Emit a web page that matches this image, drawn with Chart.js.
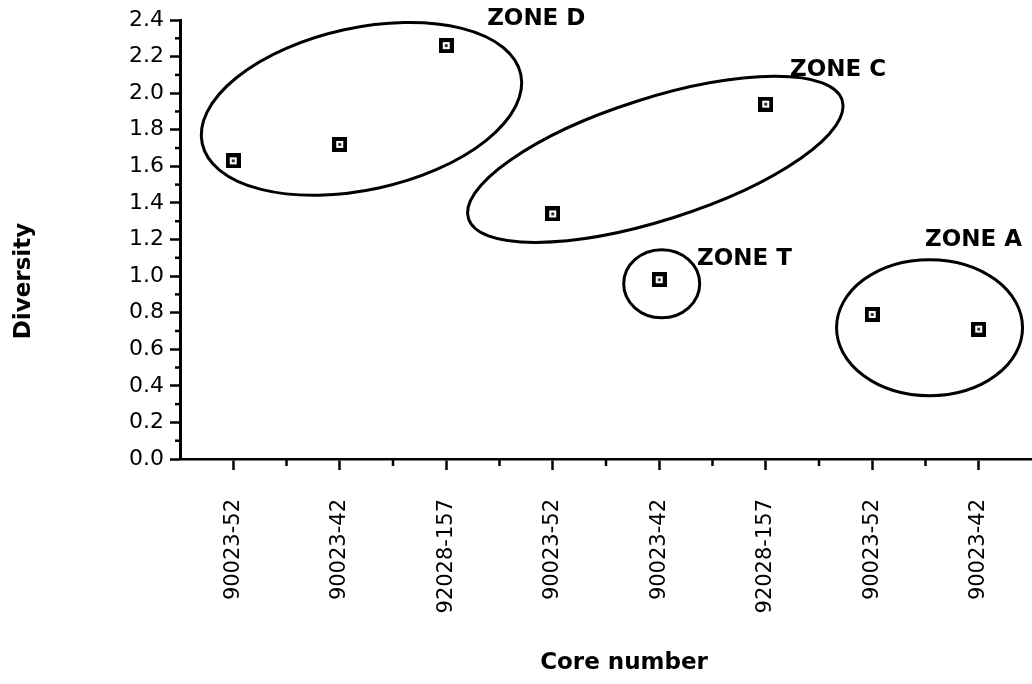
<!DOCTYPE html>
<html>
<head>
<meta charset="utf-8">
<script src="https://cdn.jsdelivr.net/npm/chart.js@4/dist/chart.umd.min.js"></script>
<style>
  html, body { margin: 0; padding: 0; background: #fff; overflow: hidden; }
  canvas { display: block; }
</style>
</head>
<body>
<canvas id="chart" width="1032" height="684"></canvas>
<script>
// Core samples along the x axis and their diversity index
const coreNumbers = ['90023-52', '90023-42', '92028-157', '90023-52', '90023-42', '92028-157', '90023-52', '90023-42'];
const diversity = [1.63, 1.72, 2.26, 1.34, 0.98, 1.94, 0.79, 0.71];
const diversityTicks = [0.0, 0.2, 0.4, 0.6, 0.8, 1.0, 1.2, 1.4, 1.6, 1.8, 2.0, 2.2, 2.4];
const zoneNames = ['ZONE D', 'ZONE C', 'ZONE T', 'ZONE A'];

// Outline geometry for each zone: centre in axis units, radii in px, tilt in degrees,
// label anchor (left / baseline) in axis units
const zoneShapes = [
  { cx: 1.204, cy: 1.914, rx: 163, ry: 81, tilt: -12.3, lx: 2.384, ly: 2.373 },
  { cx: 3.963, cy: 1.638, rx: 196, ry: 61, tilt: -17.6, lx: 5.228, ly: 2.094 },
  { cx: 4.023, cy: 0.958, rx: 38, ry: 34, tilt: 0, lx: 4.354, ly: 1.061 },
  { cx: 6.538, cy: 0.718, rx: 93, ry: 68, tilt: 0, lx: 6.495, ly: 1.165 }
];

const FONT = '"DejaVu Sans", "Liberation Sans", Arial, sans-serif';

// Square marker with a white core and a centre dot
function makeMarker() {
  const c = document.createElement('canvas');
  c.width = 15; c.height = 15;
  const g = c.getContext('2d');
  g.fillStyle = '#000';
  g.fillRect(0, 0, 15, 15);
  g.fillStyle = '#fff';
  g.fillRect(4, 4, 7, 7);
  g.fillStyle = '#000';
  g.fillRect(6.2, 6.2, 2.6, 2.6);
  return c;
}

// Let the plot run all the way to the right edge of the canvas
const fullWidth = {
  id: 'fullWidth',
  afterLayout(chart) {
    const x = chart.scales.x;
    const right = chart.width;
    if (chart.chartArea.right !== right) {
      chart.chartArea.right = right;
      chart.chartArea.width = right - chart.chartArea.left;
      x.right = right;
      x.width = right - x.left;
      x.configure();
    }
  }
};

const zonePlugin = {
  id: 'zones',
  beforeDatasetsDraw(chart) {
    const { ctx, scales: { x, y } } = chart;
    ctx.save();
    ctx.lineWidth = 3;
    ctx.strokeStyle = '#000';
    ctx.fillStyle = '#000';
    ctx.font = 'bold 23px ' + FONT;
    ctx.textAlign = 'left';
    ctx.textBaseline = 'alphabetic';
    zoneShapes.forEach((z, i) => {
      const cx = x.getPixelForValue(z.cx);
      const cy = y.getPixelForValue(z.cy);
      ctx.beginPath();
      ctx.ellipse(cx, cy, z.rx, z.ry, z.tilt * Math.PI / 180, 0, Math.PI * 2);
      ctx.stroke();
      ctx.fillText(zoneNames[i], x.getPixelForValue(z.lx), y.getPixelForValue(z.ly));
    });
    ctx.restore();
  }
};

const axisExtras = {
  id: 'axisExtras',
  afterDraw(chart) {
    const { ctx, chartArea: area, scales: { x, y } } = chart;
    ctx.save();
    ctx.strokeStyle = '#000';
    ctx.lineWidth = 2.5;
    // minor ticks halfway between the labelled y ticks
    for (let i = 0; i < diversityTicks.length - 1; i++) {
      const py = y.getPixelForValue((diversityTicks[i] + diversityTicks[i + 1]) / 2);
      ctx.beginPath();
      ctx.moveTo(area.left - 5, py);
      ctx.lineTo(area.left, py);
      ctx.stroke();
    }
    // minor ticks between neighbouring cores
    for (let i = 0; i < coreNumbers.length - 1; i++) {
      const px = (x.getPixelForValue(i) + x.getPixelForValue(i + 1)) / 2;
      ctx.beginPath();
      ctx.moveTo(px, area.bottom);
      ctx.lineTo(px, area.bottom + 7);
      ctx.stroke();
    }
    // axis titles
    ctx.fillStyle = '#000';
    ctx.font = 'bold 23px ' + FONT;
    ctx.textAlign = 'center';
    ctx.textBaseline = 'middle';
    ctx.fillText('Core number', area.left + 444, area.bottom + 204);
    ctx.translate(24, area.top + 261);
    ctx.rotate(-Math.PI / 2);
    ctx.fillText('Diversity', 0, 0);
    ctx.restore();
  }
};

new Chart(document.getElementById('chart'), {
  type: 'line',
  data: {
    labels: coreNumbers,
    datasets: [{
      data: diversity,
      showLine: false,
      pointStyle: makeMarker(),
      pointRadius: 7,
      pointHoverRadius: 7
    }]
  },
  options: {
    responsive: false,
    animation: false,
    events: [],
    layout: { padding: { top: 20, right: 0, left: 0, bottom: 0 } },
    plugins: { legend: { display: false }, tooltip: { enabled: false } },
    scales: {
      x: {
        type: 'category',
        offset: true,
        grid: { offset: false, drawOnChartArea: false, tickLength: 11, tickWidth: 2.5, tickColor: '#000' },
        border: { color: '#000', width: 2.5 },
        ticks: {
          color: '#000',
          font: { family: FONT, size: 21 },
          minRotation: 90,
          maxRotation: 90,
          padding: 29,
          autoSkip: false
        },
        afterFit(scale) {
          scale.height = 225;
          scale.paddingLeft = 0;
          scale.paddingRight = 0;
        }
      },
      y: {
        min: 0,
        max: 2.4,
        afterBuildTicks(scale) { scale.ticks = diversityTicks.map(v => ({ value: v })); },
        grid: { drawOnChartArea: false, tickLength: 10, tickWidth: 2.5, tickColor: '#000' },
        border: { color: '#000', width: 3 },
        ticks: {
          color: '#000',
          font: { family: FONT, size: 22 },
          padding: 6,
          callback: v => Number(v).toFixed(1)
        },
        afterFit(scale) { scale.width = 180; }
      }
    }
  },
  plugins: [fullWidth, zonePlugin, axisExtras]
});
</script>
</body>
</html>
